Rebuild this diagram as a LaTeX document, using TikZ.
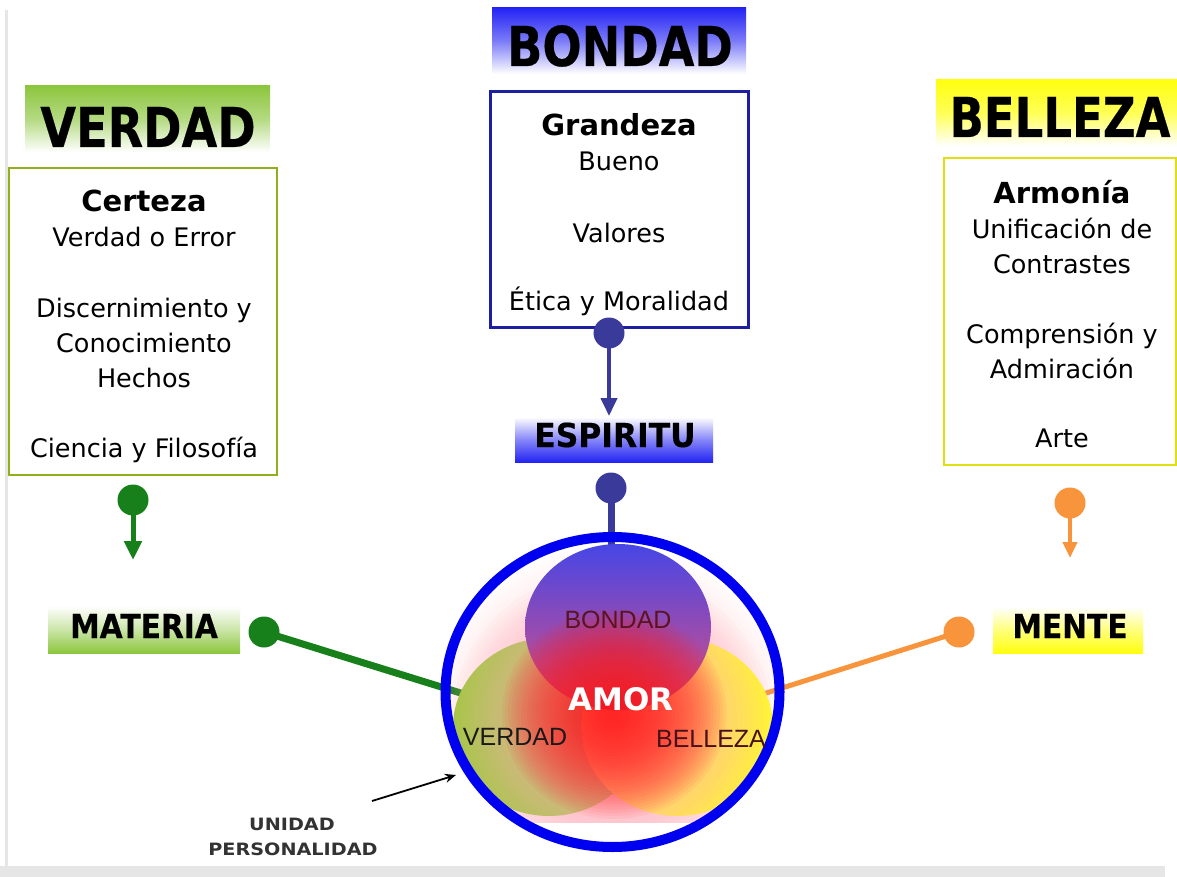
\documentclass[tikz,border=0pt]{standalone}
\usepackage{fontspec}
\setmainfont{DejaVu Sans}
\newfontfamily\lsans{Liberation Sans}
\newfontfamily\heavy{DejaVu Sans Bold}[FakeBold=0.4]
\usetikzlibrary{arrows.meta}
\definecolor{vgreen}{HTML}{8CC63E}
\definecolor{cgreen}{HTML}{A2C640}
\definecolor{dgreen}{HTML}{17801A}
\definecolor{boxgreen}{HTML}{8FB01A}
\definecolor{hblue}{HTML}{2424F4}
\definecolor{boxblue}{HTML}{1E1EA0}
\definecolor{dblue}{HTML}{3A3A9A}
\definecolor{cblue}{HTML}{4646E6}
\definecolor{cbluemid}{HTML}{8A5ED6}
\definecolor{cblue2}{HTML}{E05080}
\definecolor{hyellow}{HTML}{FFFF10}
\definecolor{cyellow}{HTML}{FFF830}
\definecolor{boxyellow}{HTML}{E0E010}
\definecolor{dorange}{HTML}{F7943C}
\definecolor{ringblue}{HTML}{0000F0}
\definecolor{lblred}{HTML}{5A1420}
\definecolor{framegray}{HTML}{E6E6E6}
\definecolor{halopink}{HTML}{FFB4BE}
\definecolor{amorred}{HTML}{FF1A1A}
\newcommand\hdtxt{\bfseries\fontsize{29}{35}\selectfont}
\begin{document}
\begin{tikzpicture}[x=1pt,y=-1pt,
  hdr/.style={inner sep=0, font=\heavy\fontsize{55}{55}\selectfont},
  lbl/.style={inner sep=0, font=\heavy\fontsize{33}{33}\selectfont},
  bodytxt/.style={align=center, font=\fontsize{25.5}{35}\selectfont, inner sep=0},
  dot/.style={circle, inner sep=0, minimum size=31},
  venntxt/.style={font=\lsans\fontsize{25}{25}\selectfont, inner sep=0},
  small/.style={font=\bfseries\fontsize{17}{17}\selectfont, text=black!80, inner sep=0}
]
\useasboundingbox (0,0) rectangle (1177,877);
\fill[white] (0,0) rectangle (1177,877);
\fill[framegray] (5,10) rectangle (8,866);
\fill[framegray] (0,866) rectangle (1165,877);

% ---------- headers ----------
\shade[top color=vgreen, bottom color=white, middle color=vgreen!65] (25,86) rectangle (270,152);
\node[hdr, anchor=base] (verdad) at (148,147) {\scalebox{0.84}[1]{VERDAD}};
\shade[top color=hblue, bottom color=white, middle color=hblue!60] (492,8) rectangle (746,74);
\node[hdr, anchor=base] (bondad) at (620,66) {\scalebox{0.84}[1]{BONDAD}};
\shade[top color=hyellow, bottom color=white, middle color=hyellow!70] (936,80) rectangle (1177,146);
\node[hdr, anchor=base] (belleza) at (1060,137) {\scalebox{0.82}[1]{BELLEZA}};

% ---------- boxes ----------
\draw[boxgreen, line width=2.5] (9,168) rectangle (277,475);
\node[bodytxt, anchor=north] (certtxt) at (144,190)
  {{\hdtxt Certeza}\\Verdad o Error\\[36pt]Discernimiento y\\Conocimiento\\Hechos\\[35pt]Ciencia y Filosofía};
\draw[boxblue, line width=3] (490,92) rectangle (748,327);
\node[bodytxt, anchor=north] (grantxt) at (619,113)
  {{\hdtxt Grandeza}\\Bueno\\[37pt]Valores\\[33pt]Ética y Moralidad};
\draw[boxyellow, line width=2.5] (944,158) rectangle (1176,465);
\node[bodytxt, anchor=north] (armtxt) at (1062,180)
  {{\hdtxt Armonía}\\Unificación de\\Contrastes\\[35pt]Comprensión y\\Admiración\\[34pt]Arte};

% ---------- small labels ----------
\shade[top color=white, bottom color=vgreen, middle color=vgreen!45] (48,606) rectangle (240,653);
\node[lbl, anchor=base] (materia) at (144,638) {\scalebox{0.9}[1]{MATERIA}};
\shade[top color=white, bottom color=hblue, middle color=hblue!55] (515,417) rectangle (713,462);
\node[lbl, anchor=base] (espiritu) at (615,447) {\scalebox{0.95}[1]{ESPIRITU}};
\shade[top color=white, bottom color=hyellow, middle color=hyellow!55] (993,607) rectangle (1143,653);
\node[lbl, anchor=base] (mente) at (1070,638) {\scalebox{0.9}[1]{MENTE}};

% ---------- connectors ----------
\coordinate (gtip) at (133,560);
\coordinate (btip) at (609,416);
\coordinate (otip) at (1070,558);
\coordinate (gend) at (480,699);
\coordinate (oend) at (760,695);
\coordinate (bend) at (611,545);
\coordinate (gdot1) at (133,500);
\coordinate (gdot2) at (264,632);
\coordinate (bdot1) at (609,333);
\coordinate (bdot2) at (611,488);
\coordinate (odot1) at (1070,503);
\coordinate (odot2) at (959,632);
\draw[dgreen, line width=5, -{Triangle[width=17,length=19]}] (gdot1) -- (gtip);
\draw[dblue, line width=4, -{Triangle[width=16,length=18]}] (bdot1) -- (btip);
\draw[dorange, line width=4, -{Triangle[width=14,length=16]}] (odot1) -- (otip);
\draw[dgreen, line width=7] (gdot2) -- (gend);
\draw[dorange, line width=5] (odot2) -- (oend);
\draw[dblue, line width=7] (bdot2) -- (bend);
\node[dot, fill=dgreen] (gd1) at (gdot1) {};
\node[dot, fill=dgreen] (gd2) at (gdot2) {};
\node[dot, fill=dblue] (bd1) at (bdot1) {};
\node[dot, fill=dblue] (bd2) at (bdot2) {};
\node[dot, fill=dorange] (od1) at (odot1) {};
\node[dot, fill=dorange] (od2) at (odot2) {};

% ---------- venn ----------
\begin{scope}
  \clip (612.5,692) ellipse (167 and 155);
  \clip (400,500) rectangle (820,822);
  \foreach \r in {4,8,...,176} {\fill[halopink, opacity=0.02] (612,722) ellipse ({\r*1.05} and \r);}
  \fill[cgreen] (549,727) ellipse (96 and 89);
  \fill[cyellow] (677,727) ellipse (96 and 89);
  \foreach \r in {4,8,...,148} {\fill[halopink, opacity=0.05] (612,718) ellipse ({\r*1.08} and \r);}
  \shade[top color=cblue, middle color=cbluemid, bottom color=cblue2] (618,627) ellipse (93 and 83);
  \foreach \r in {3,6,...,105} {\fill[amorred, opacity=0.06] (614,714) ellipse ({\r*1.07} and \r);}
\end{scope}
\draw[ringblue, line width=10] (612.5,692) ellipse (167 and 155);

\node[venntxt, anchor=base, text=lblred] (vbondad) at (618,628) {BONDAD};
\node[venntxt, anchor=base, text=black!90] (vverdad) at (515,745) {VERDAD};
\node[venntxt, anchor=base, text=lblred!80!black] (vbelleza) at (711,747) {BELLEZA};
\node[inner sep=0, anchor=base, text=white, font=\bfseries\fontsize{31}{31}\selectfont] (amor) at (621,710) {AMOR};

% ---------- unidad personalidad ----------
\node[small, anchor=base] (unidad) at (292,830) {\scalebox{1.13}[1]{UNIDAD}};
\node[small, anchor=base] (personalidad) at (293,855) {\scalebox{1.13}[1]{PERSONALIDAD}};
\coordinate (uarrow) at (456,775);
\coordinate (ustart) at (372,801);
\draw[black, line width=1.8, -{Stealth[width=9,length=11]}] (ustart) -- (uarrow);
\end{tikzpicture}
\end{document}
